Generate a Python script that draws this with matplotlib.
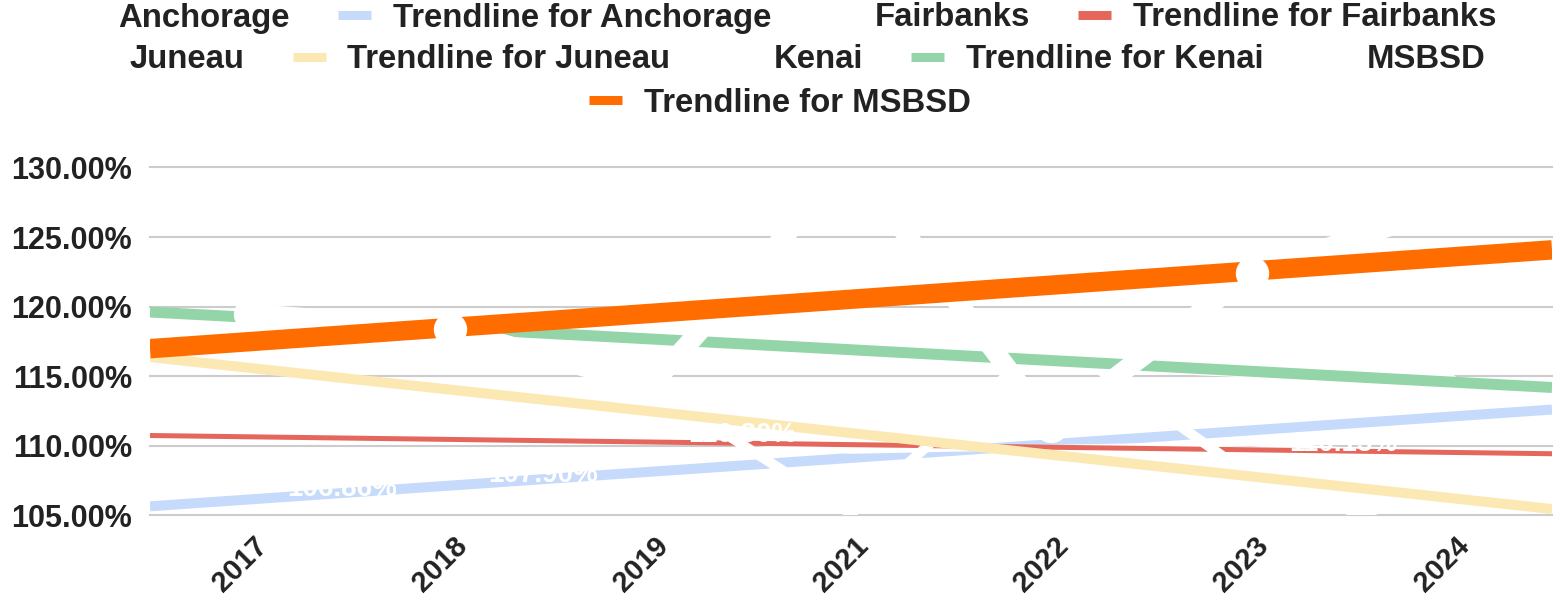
import numpy as np
import matplotlib
matplotlib.use("Agg")
import matplotlib.pyplot as plt
from matplotlib.lines import Line2D
import matplotlib.transforms as mtransforms

# ---------------- data ----------------
years = ["2017", "2018", "2019", "2021", "2022", "2023", "2024"]
anchorage = [106.86, 107.90, 106.90, 108.40, 109.50, 111.30, 113.00]
fairbanks = [110.46, 110.45, 110.80, 109.60, 109.89, 110.13, 109.23]
juneau = [114.30, 114.20, 114.28, 105.09, 117.90, 107.80, 102.80]
kenai = [119.30, 118.30, 117.80, 117.00, 115.90, 115.30, 114.70]
msbsd = [119.50, 118.40, 114.30, 130.43, 111.40, 122.40, 127.27]

series_names = ["Anchorage", "Fairbanks", "Juneau", "Kenai", "MSBSD"]
series_values = [anchorage, fairbanks, juneau, kenai, msbsd]
y_ticks = [105, 110, 115, 120, 125, 130]

# ---------------- style ----------------
trend_colors = ["#c6dafc", "#e5675c", "#fce8b2", "#93d5a9", "#ff6d01"]
widths = [7.2, 3.6, 7.2, 7.9, 14.0]
label_points = {"Anchorage": [0, 1], "Fairbanks": [2, 5]}
marked = ["MSBSD"]

W, H = 1560, 599
fig = plt.figure(figsize=(W / 100, H / 100), dpi=100)
ax = fig.add_axes([150 / W, 1 - 515.3 / H, 1402 / W, (515.3 - 167.5) / H])

x = np.arange(len(years))
ax.set_xlim(-0.5, len(years) - 0.5)
ax.set_ylim(min(y_ticks), max(y_ticks))

for t in y_ticks:
    ax.axhline(t, color="#cccccc", lw=1.5, zorder=30 if t == max(y_ticks) else 0,
               clip_on=False)

# each series: white data line, then its trendline on top
xt = np.array([-0.5, len(years) - 0.5])
for k, (name, vals, col, lw) in enumerate(zip(series_names, series_values, trend_colors, widths)):
    ax.plot(x, vals, color="white", lw=lw, zorder=2 + 2 * k,
            solid_joinstyle="round", solid_capstyle="round")
    b, a = np.polyfit(x, vals, 1)
    ax.plot(xt, a + b * xt, color=col, lw=lw, solid_capstyle="butt", zorder=3 + 2 * k)

# points and data labels on top
for name, vals in zip(series_names, series_values):
    if name in marked:
        ax.plot(x, vals, linestyle="none", marker="o", ms=23, mfc="white",
                mec="white", zorder=20)
    for i in label_points.get(name, []):
        ax.annotate(f"{vals[i]:.2f}%", (x[i], vals[i]), xytext=(27, 0),
                    textcoords="offset points", ha="left", va="center", color="white",
                    fontsize=20, fontweight="bold", family="Liberation Sans", zorder=21)

for s in ax.spines.values():
    s.set_visible(False)
ax.tick_params(length=0)
ax.set_yticks(y_ticks)
ax.set_yticklabels([f"{t:.2f}%" for t in y_ticks], fontsize=22, fontweight="bold",
                   family="Liberation Sans", color="#222222")
ax.tick_params(axis="y", pad=13)
ax.set_xticks(x)
ax.set_xticklabels(years, rotation=45, ha="right", va="center", rotation_mode="anchor",
                   fontsize=21, fontweight="bold", family="Liberation Sans", color="#222222")
ax.tick_params(axis="x", pad=19)
off = mtransforms.ScaledTranslation(13 / 100, 0, fig.dpi_scale_trans)
for lab in ax.get_xticklabels():
    lab.set_transform(lab.get_transform() + off)

# legends (three centred rows)
def handle(col):
    return Line2D([0], [0], color=col, lw=6.5, solid_capstyle="butt")

entries = []
for name, col in zip(series_names, trend_colors):
    entries.append((handle("white"), name))
    entries.append((handle(col), f"Trendline for {name}"))
rows = [entries[0:4], entries[4:9], entries[9:10]]
row_y = [18, 60, 103]
for row, yy in zip(rows, row_y):
    leg = fig.legend([h for h, _ in row], [l for _, l in row], loc="center",
                     bbox_to_anchor=(0.5, 1 - yy / H), ncol=len(row), frameon=False,
                     prop={"family": "Liberation Sans", "weight": "bold", "size": 23.7},
                     handlelength=1.0, handletextpad=0.66, columnspacing=1.47,
                     borderpad=0, borderaxespad=0)
    for t in leg.get_texts():
        t.set_color("#222222")

fig.savefig("out.png", dpi=100, facecolor="white")
